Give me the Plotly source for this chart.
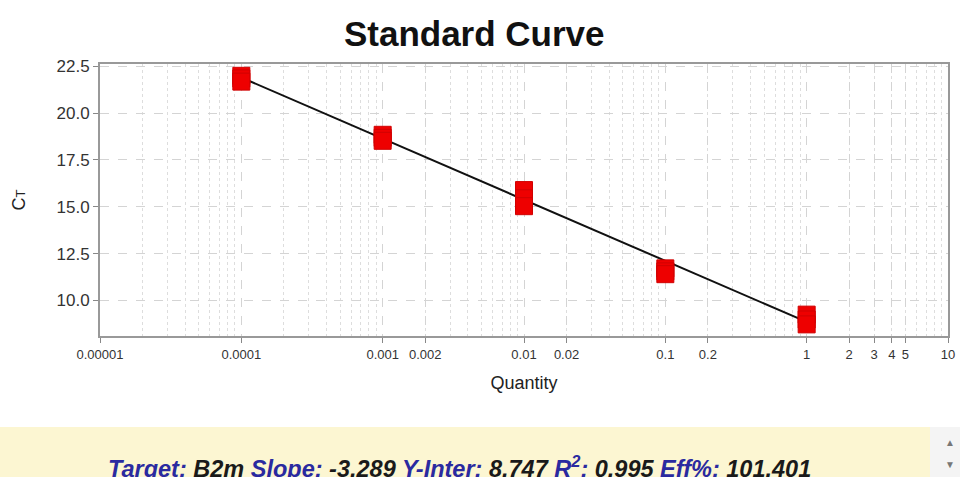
import plotly.graph_objects as go

# ---- data ----
quantity = [0.0001, 0.0001, 0.0001,
            0.001, 0.001, 0.001,
            0.01, 0.01, 0.01,
            0.1, 0.1, 0.1,
            1, 1, 1]
ct_values = [21.99, 21.85, 21.68,
             18.84, 18.68, 18.52,
             15.89, 15.45, 15.03,
             11.71, 11.55, 11.40,
             9.24, 8.98, 8.72]
fit_x = [0.0001, 1]
fit_y = [21.90, 8.85]

x_tickvals = [1e-5, 1e-4, 1e-3, 2e-3, 1e-2, 2e-2, 0.1, 0.2, 1, 2, 3, 4, 5, 10]
x_ticktext = ["0.00001", "0.0001", "0.001", "0.002", "0.01", "0.02", "0.1", "0.2",
              "1", "2", "3", "4", "5", "10"]
minor_vals = [m * 10 ** e for e in range(-5, 1) for m in range(2, 10)]
y_tickvals = [10.0, 12.5, 15.0, 17.5, 20.0, 22.5]
y_ticktext = ["10.0", "12.5", "15.0", "17.5", "20.0", "22.5"]

stats_labels = ["Target:", "Slope:", "Y-Inter:", "R<sup>2</sup>:", "Eff%:"]
stats_values = ["B2m", "-3.289", "8.747", "0.995", "101.401"]

fig = go.Figure()
fig.add_trace(go.Scatter(x=fit_x, y=fit_y, mode="lines",
                         line=dict(color="#111111", width=2), showlegend=False,
                         hoverinfo="skip"))
fig.add_trace(go.Scatter(x=quantity, y=ct_values, mode="markers",
                         marker=dict(symbol="square", size=17, color="#ee0000",
                                     line=dict(color="#d00000", width=1)),
                         showlegend=False))

font_main = "Liberation Sans, Arial, sans-serif"
fig.update_layout(
    width=960, height=477,
    margin=dict(l=100, r=12, t=64, b=141),
    paper_bgcolor="white", plot_bgcolor="white",
    font=dict(family=font_main, color="#222222"),
    title=dict(text="<b>Standard Curve</b>", x=0.494, xanchor="center",
               y=0.93, yanchor="middle", yref="container",
               font=dict(size=35, color="#111111", family=font_main)),
)
fig.update_xaxes(
    type="log", range=[-5, 1], automargin=False,
    tickmode="array", tickvals=x_tickvals, ticktext=x_ticktext,
    tickfont=dict(size=13, color="#333333"),
    ticks="outside", ticklen=5, tickcolor="#888888",
    showgrid=True, gridcolor="#d4d4d4", griddash="dash", gridwidth=1,
    minor=dict(tickvals=minor_vals, showgrid=True, gridcolor="#dddddd",
               griddash="dot", ticks=""),
    showline=True, linecolor="#999999", linewidth=2, mirror=True,
    zeroline=False,
    title=dict(text="Quantity", font=dict(size=18, color="#222222"), standoff=16),
)
fig.update_yaxes(
    range=[8.1, 22.62], automargin=False,
    tickmode="array", tickvals=y_tickvals, ticktext=y_ticktext,
    tickfont=dict(size=17, color="#333333"),
    ticks="outside", ticklen=5, tickcolor="#888888",
    showgrid=True, gridcolor="#d4d4d4", griddash="dash", gridwidth=1,
    showline=True, linecolor="#999999", linewidth=2, mirror=True,
    zeroline=False,
    title=dict(text="C<span style='font-size:13px'>T</span>",
               font=dict(size=18, color="#222222"), standoff=26),
)

# bottom info band
fig.add_shape(type="rect", xref="paper", yref="paper",
              x0=-100 / 848, x1=1 + 12 / 848 - 30 / 848,
              y0=-141 / 272, y1=-91 / 272,
              fillcolor="#fcf6d2", line=dict(width=0), layer="below")
fig.add_shape(type="rect", xref="paper", yref="paper",
              x0=1 + 12 / 848 - 30 / 848, x1=1 + 12 / 848,
              y0=-141 / 272, y1=-91 / 272,
              fillcolor="#f4f4f4", line=dict(width=0), layer="below")

label_color = "#2a2aa0"
value_color = "#1a1a1a"
parts = []
for lab, val in zip(stats_labels, stats_values):
    parts.append(f"<span style='color:{label_color}'>{lab}</span>"
                 f"<span style='color:{value_color}'> {val}</span>")
stats_text = "<b><i>" + " ".join(parts) + "</i></b>"
fig.add_annotation(text=stats_text, xref="paper", yref="paper",
                   x=(459 - 100) / 848, y=-(467 - 336) / 272,
                   xanchor="center", yanchor="middle", showarrow=False,
                   font=dict(size=23.5, family="Liberation Sans Narrow, Arial Narrow, sans-serif"))
fig.add_annotation(text="▲", xref="paper", yref="paper",
                   x=(950 - 100) / 848, y=-(442 - 336) / 272,
                   xanchor="center", yanchor="middle", showarrow=False,
                   font=dict(size=10, color="#777777"))
fig.add_annotation(text="▼", xref="paper", yref="paper",
                   x=(950 - 100) / 848, y=-(465 - 336) / 272,
                   xanchor="center", yanchor="middle", showarrow=False,
                   font=dict(size=10, color="#777777"))

fig.write_html("out.html", config={"displayModeBar": False},
               post_script="document.body.style.margin='0';document.body.style.overflow='hidden';")
